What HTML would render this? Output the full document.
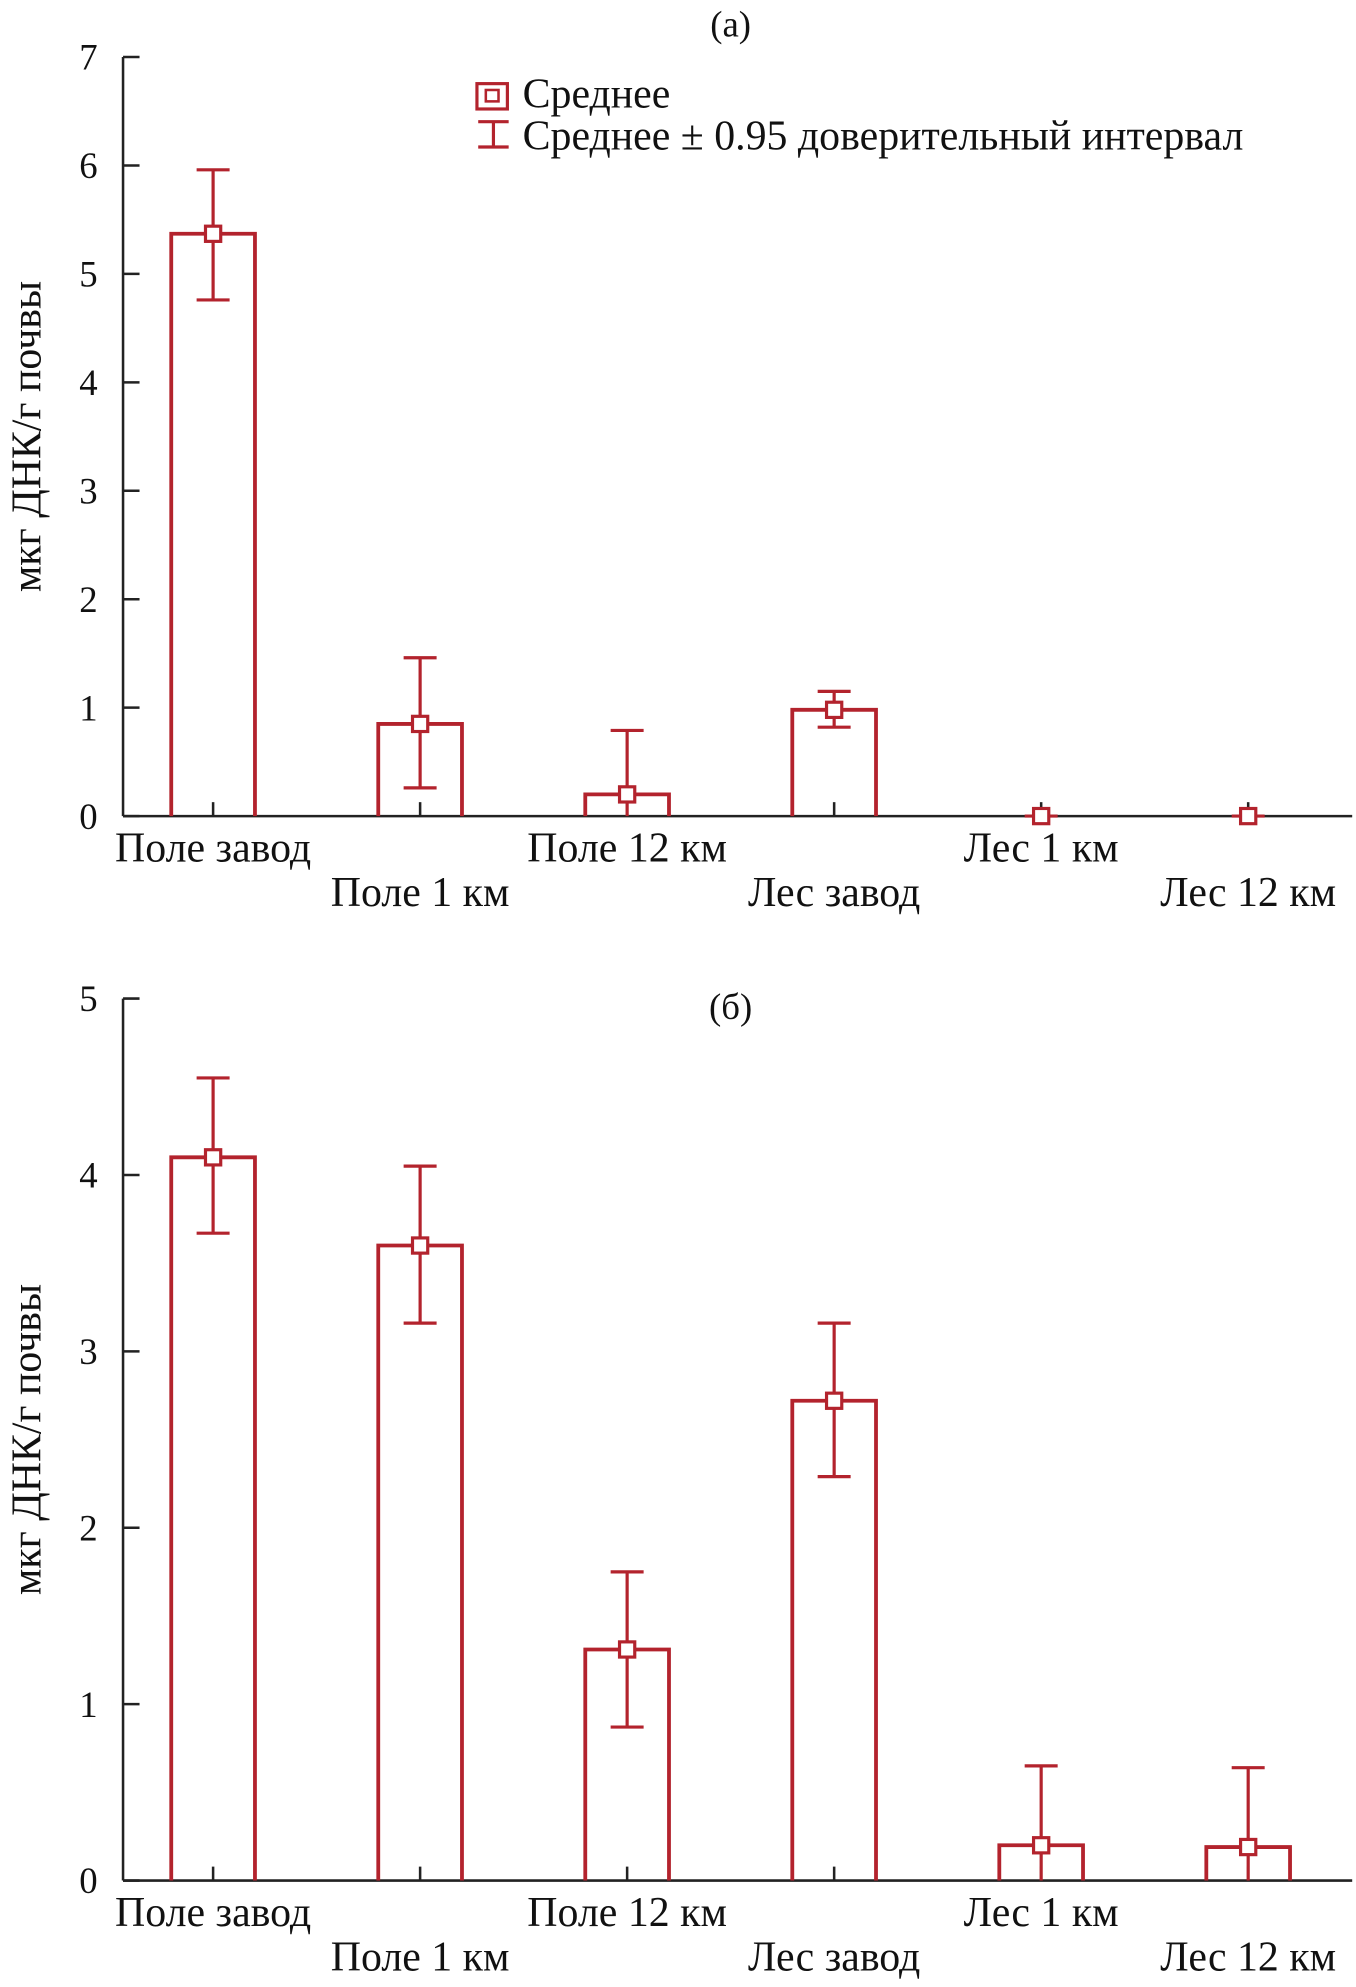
<!DOCTYPE html>
<html><head><meta charset="utf-8"><style>
html,body{margin:0;padding:0;background:#fff;}
svg{display:block;}
text{font-family:"Liberation Serif",serif;fill:#111;}
</style></head><body>
<svg id="c" width="1356" height="1987" viewBox="0 0 1069 1568" preserveAspectRatio="none"></svg>
<script>
const categories=["Поле завод","Поле 1 км","Поле 12 км","Лес завод","Лес 1 км","Лес 12 км"];
const meanA=[5.37,0.85,0.2,0.98,0.0,0.0];
const lowA=[4.76,0.26,0,0.82,0,0];
const highA=[5.96,1.46,0.79,1.15,0.0,0.0];
const meanB=[4.1,3.6,1.31,2.72,0.2,0.19];
const lowB=[3.67,3.16,0.87,2.29,0,0];
const highB=[4.55,4.05,1.75,3.16,0.65,0.64];
const ticksA=[0,1,2,3,4,5,6,7];
const ticksB=[0,1,2,3,4,5];
const svg=document.getElementById('c');
const NS='http://www.w3.org/2000/svg';
const RED='#b3232d';
const FS=33;
function mk(t,a,p){const e=document.createElementNS(NS,t);for(const k in a)e.setAttribute(k,a[k]);(p||svg).appendChild(e);return e;}
function panel(id,y0,y1,vmax,ticks,mean,low,high,title){
  const g=mk('g',{});
  
  
  const ys=v=>y0-(v/vmax)*(y0-y1);
  const xs=i=>168+i*163.2;
  mk('line',{x1:97,y1:y1,x2:97,y2:y0,stroke:'#222','stroke-width':2},g);
  mk('line',{x1:97,y1:y0,x2:1066,y2:y0,stroke:'#222','stroke-width':2},g);
  ticks.forEach(t=>{
    mk('line',{x1:97,y1:ys(t),x2:110,y2:ys(t),stroke:'#222','stroke-width':2},g);
    const tx=mk('text',{x:77,y:ys(t)+10,'text-anchor':'end','font-size':29},g);tx.textContent=t;
    
    
  });
  const yt=mk('text',{x:0,y:0,'text-anchor':'middle','font-size':FS,transform:`translate(32,${(y0+y1)/2}) rotate(-90)`},g);
  yt.textContent='мкг ДНК/г почвы';
  
  
  const tt=mk('text',{x:576,y:title==='(а)'?29:804,'text-anchor':'middle','font-size':29},g);tt.textContent=title;
  
  
  categories.forEach((c,i)=>{
    const x=xs(i);
    mk('line',{x1:x,y1:y0,x2:x,y2:y0-11,stroke:'#222','stroke-width':2},g);
    const lb=mk('text',{x:x,y:y0+(i%2?71:36),'text-anchor':'middle','font-size':FS},g);lb.textContent=c;
    
    
    if(mean[i]>0.02){
      const b=mk('path',{d:`M${x-33},${y0}V${ys(mean[i])}H${x+33}V${y0}`,fill:'none',stroke:RED,'stroke-width':3},g);
      
      
    }
    const lo=Math.max(0,low[i]);
    const eb=mk('path',{d:`M${x},${ys(lo)}V${ys(high[i])}M${x-13},${ys(high[i])}H${x+13}`+(lo>0?`M${x-13},${ys(lo)}H${x+13}`:''),fill:'none',stroke:RED,'stroke-width':2.5},g);
    
    
    const m=mk('rect',{x:x-6,y:ys(mean[i])-6,width:12,height:12,fill:'#fff',stroke:RED,'stroke-width':2.5},g);
    
    
  });
}
panel('chart-a',644,45,7,ticksA,meanA,lowA,highA,'(а)');
panel('chart-b',1484,788,5,ticksB,meanB,lowB,highB,'(б)');
const lg=mk('g',{});


mk('rect',{x:376,y:66,width:24,height:20,fill:'none',stroke:RED,'stroke-width':2.5},lg);
mk('rect',{x:383,y:71,width:10,height:9,fill:'none',stroke:RED,'stroke-width':2},lg);
mk('path',{d:'M377,96H401M389,96V116M377,116H401',fill:'none',stroke:RED,'stroke-width':2.5},lg);
const l1=mk('text',{x:412,y:85,'font-size':FS},lg);l1.textContent='Среднее';


const l2=mk('text',{x:412,y:118,'font-size':FS},lg);l2.textContent='Среднее ± 0.95 доверительный интервал';


</script>
</body></html>
